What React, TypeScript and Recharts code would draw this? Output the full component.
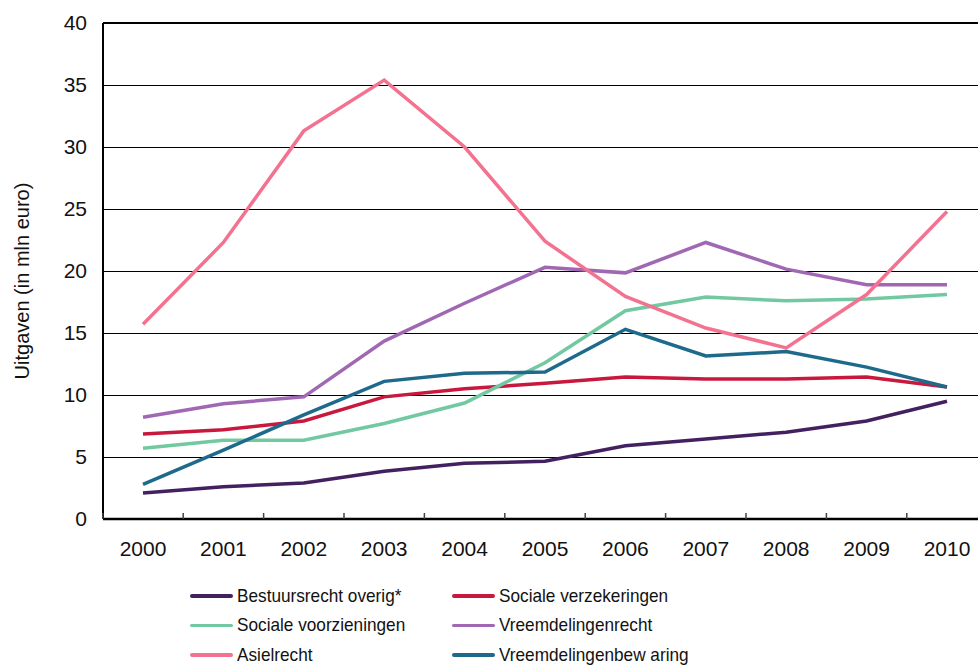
import React from 'react';
import { LineChart, Line, XAxis, YAxis, CartesianGrid, Legend, ReferenceLine } from 'recharts';

const years = ['2000', '2001', '2002', '2003', '2004', '2005', '2006', '2007', '2008', '2009', '2010'];

const bestuursrecht = [2.1, 2.6, 2.9, 3.85, 4.5, 4.65, 5.9, 6.45, 7.0, 7.9, 9.5];
const socVerzekeringen = [6.85, 7.2, 7.9, 9.85, 10.5, 10.95, 11.45, 11.3, 11.3, 11.45, 10.65];
const socVoorzieningen = [5.7, 6.35, 6.35, 7.7, 9.35, 12.6, 16.8, 17.9, 17.6, 17.75, 18.1];
const vreemdelingenrecht = [8.2, 9.3, 9.85, 14.35, 17.4, 20.3, 19.85, 22.3, 20.15, 18.9, 18.9];
const asielrecht = [15.7, 22.3, 31.3, 35.4, 30.0, 22.4, 17.95, 15.4, 13.8, 18.1, 24.8];
const bewaring = [2.8, 5.55, 8.4, 11.1, 11.75, 11.85, 15.3, 13.15, 13.5, 12.25, 10.65];

const yTicks = [0, 5, 10, 15, 20, 25, 30, 35, 40];

const series = [
  { key: 'bestuursrecht', name: 'Bestuursrecht overig*', color: '#43205f', values: bestuursrecht },
  { key: 'socVerzekeringen', name: 'Sociale verzekeringen', color: '#c8183e', values: socVerzekeringen },
  { key: 'socVoorzieningen', name: 'Sociale voorzieningen', color: '#72c9a1', values: socVoorzieningen },
  { key: 'vreemdelingenrecht', name: 'Vreemdelingenrecht', color: '#a068b2', values: vreemdelingenrecht },
  { key: 'asielrecht', name: 'Asielrecht', color: '#f2728f', values: asielrecht },
  { key: 'bewaring', name: 'Vreemdelingenbew aring', color: '#1e6a8b', values: bewaring },
];

const data = years.map((year, i) => {
  const row: Record<string, string | number> = { year };
  series.forEach((s) => {
    row[s.key] = s.values[i];
  });
  return row;
});

const FONT = 'Arial, "Liberation Sans", sans-serif';
const HALF_STEP = 40.2;

const YearTick = (props: any) => {
  const { x, y, payload, index } = props;
  return (
    <g>
      <line x1={x - HALF_STEP} x2={x - HALF_STEP} y1={y - 6} y2={y} stroke="#444" strokeWidth={1.5} />
      {index === years.length - 1 && (
        <line x1={x + HALF_STEP} x2={x + HALF_STEP} y1={y - 6} y2={y} stroke="#444" strokeWidth={1.5} />
      )}
      <text x={x} y={y + 37} textAnchor="middle" fontSize={21} fontFamily={FONT} fill="#111">
        {payload.value}
      </text>
    </g>
  );
};

// legend text in the original is a narrow face, so squeeze Arial a bit
const LegendBox = () => (
  <div
    style={{
      display: 'grid',
      gridTemplateColumns: '262px 300px',
      gridAutoRows: '29.5px',
      fontFamily: FONT,
      fontSize: 19,
      lineHeight: '16px',
      color: '#111',
    }}
  >
    {series.map((s) => (
      <div key={s.key} style={{ display: 'flex', alignItems: 'center', whiteSpace: 'nowrap' }}>
        <span style={{ display: 'inline-block', width: 43, height: 3.5, background: s.color, borderRadius: 2, marginRight: 4 }} />
        <span style={{ display: 'inline-block', transform: 'scaleX(0.905)', transformOrigin: 'left center' }}>{s.name}</span>
      </div>
    ))}
  </div>
);

const App = () => {
  return (
    <div style={{ position: 'fixed', top: 0, left: 0, width: 978, height: 667, overflow: 'hidden', background: '#fff' }}>
      <LineChart width={990} height={667} data={data} margin={{ top: 23, right: 3, left: 0, bottom: 98 }}>
        <CartesianGrid vertical={false} stroke="#000" strokeWidth={1} shapeRendering="crispEdges" />
        <ReferenceLine y={40} stroke="#000" strokeWidth={2} />
        <XAxis
          dataKey="year"
          height={50}
          padding={{ left: 40, right: 40 }}
          axisLine={{ stroke: '#000', strokeWidth: 2.5 }}
          tickLine={false}
          tickSize={0}
          tickMargin={0}
          interval={0}
          tick={<YearTick />}
        />
        <YAxis
          width={103}
          domain={[0, 40]}
          ticks={yTicks}
          interval={0}
          axisLine={{ stroke: '#000', strokeWidth: 2 }}
          tickLine={false}
          tickSize={0}
          tickMargin={16}
          tick={{ fontSize: 21, fontFamily: FONT, fill: '#111' }}
          label={{
            content: () => (
              <text
                x={29}
                y={281}
                transform="rotate(-90 29 281)"
                textAnchor="middle"
                fontSize={20}
                fontFamily={FONT}
                fill="#111"
              >
                Uitgaven (in mln euro)
              </text>
            ),
          }}
        />
        {series.map((s) => (
          <Line
            key={s.key}
            type="linear"
            dataKey={s.key}
            name={s.name}
            stroke={s.color}
            strokeWidth={3.5}
            dot={false}
            isAnimationActive={false}
          />
        ))}
        <Legend
          layout="horizontal"
          verticalAlign="middle"
          align="center"
          wrapperStyle={{ top: 581, left: 190, width: 620 }}
          content={() => <LegendBox />}
        />
      </LineChart>
    </div>
  );
};

export default App;
